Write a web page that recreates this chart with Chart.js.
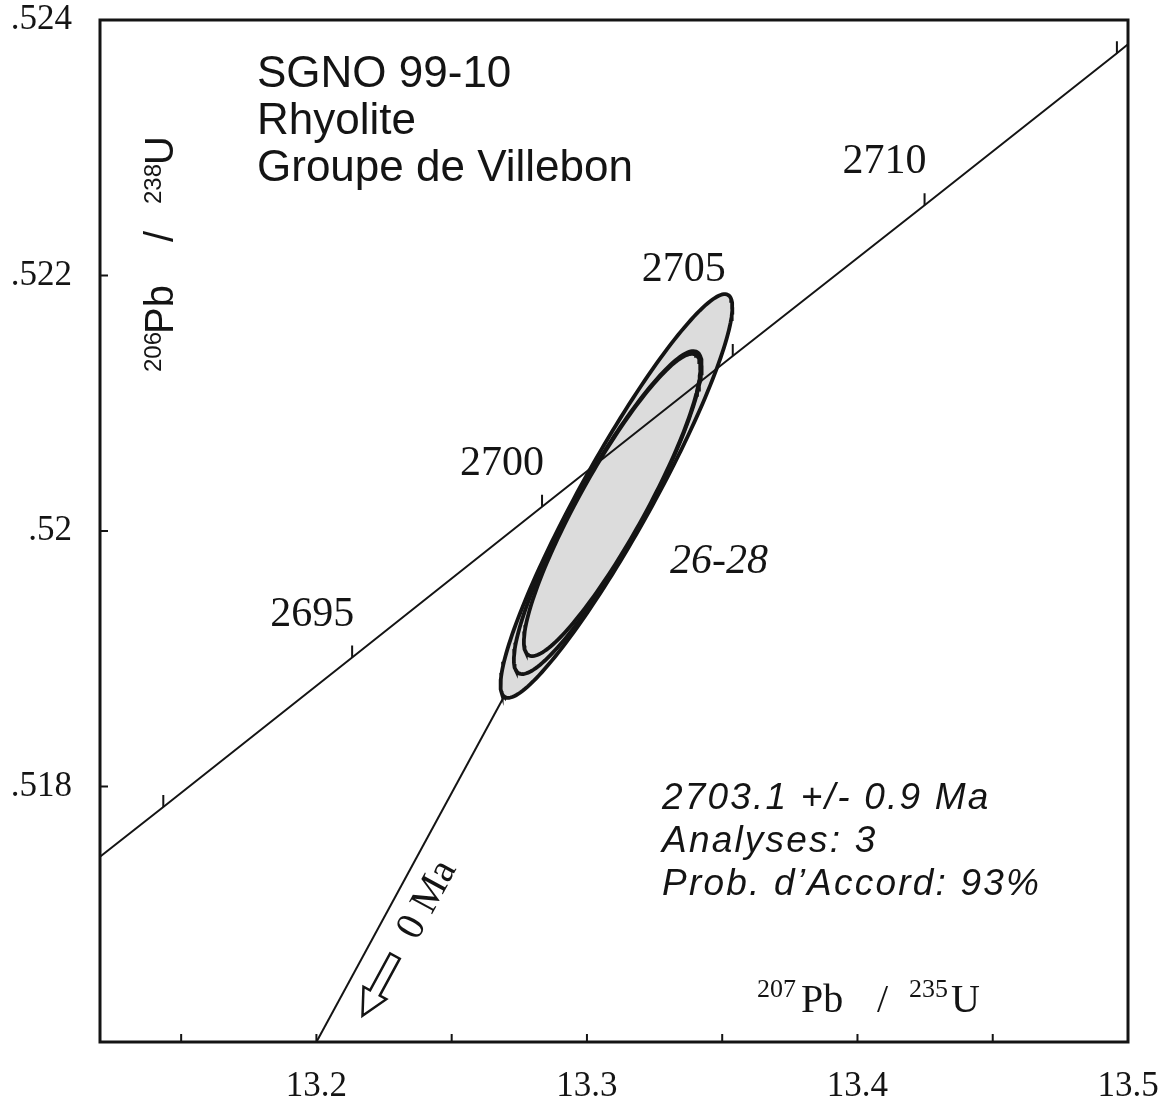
<!DOCTYPE html>
<html><head><meta charset="utf-8">
<script src="https://cdn.jsdelivr.net/npm/chart.js@4.4.0/dist/chart.umd.min.js"></script>
<style>html,body{margin:0;padding:0;background:#fff;} canvas{display:block;}</style>
</head><body>
<canvas id="c" width="1165" height="1105"></canvas>
<script>
// ---------------- data ----------------
const xRange = [13.12, 13.5];
const yRange = [0.516, 0.524];
const xTickLabels = [13.2, 13.3, 13.4, 13.5];
const xInnerTicks = [13.15, 13.2, 13.25, 13.3, 13.35, 13.4, 13.45];
const yTickValues = [0.518, 0.52, 0.522, 0.524];
const yTickLabels = ['.518', '.52', '.522', '.524'];
const yInnerTicks = [0.518, 0.52, 0.522];

// concordia age marks (Ma) and their positions
const concordiaAges = [2690, 2695, 2700, 2705, 2710, 2715];
const concordiaX = [13.1434, 13.2132, 13.2834, 13.3539, 13.4248, 13.4959];
const concordiaY = [0.51784, 0.51901, 0.52019, 0.52137, 0.52255, 0.52374];
const concordiaEndsX = [13.12, 13.5];
const concordiaEndsY = [0.51745, 0.52381];
const labelledAges = [2695, 2700, 2705, 2710];

// error ellipses (analyses 26-28): centre, half-ranges, correlation
const ellipseCx = [13.3109, 13.3077, 13.3093];
const ellipseCy = [0.520274, 0.520144, 0.520204];
const ellipseRx = [0.04284, 0.03472, 0.03262];
const ellipseRy = [0.001580, 0.001264, 0.001183];
const ellipseRho = [0.935, 0.911, 0.905];

// reference line towards 0 Ma
const zeroLineX = [13.2, 13.28];
const zeroLineY = [0.51600, 0.51912];

// texts
const titleLines = ['SGNO 99-10', 'Rhyolite', 'Groupe de Villebon'];
const statsLines = ['2703.1 +/- 0.9 Ma', 'Analyses: 3', 'Prob. d\u2019Accord: 93%'];
const groupLabel = '26-28';
const zeroLabel = '0 Ma';

// ---------------- build ----------------
const SERIF = '"Liberation Serif", "Times New Roman", Times, serif';
const SANS = '"Liberation Sans", Arial, Helvetica, sans-serif';
const INK = '#141414';

function ellipsePoints(i) {
  const pts = [];
  const s = Math.sqrt(1 - ellipseRho[i] * ellipseRho[i]);
  for (let k = 0; k <= 180; k++) {
    const t = k / 180 * 2 * Math.PI;
    pts.push({
      x: ellipseCx[i] + ellipseRx[i] * Math.cos(t),
      y: ellipseCy[i] + ellipseRy[i] * (ellipseRho[i] * Math.cos(t) + s * Math.sin(t))
    });
  }
  return pts;
}

const concordiaData = [{x: concordiaEndsX[0], y: concordiaEndsY[0]}]
  .concat(concordiaX.map((x, i) => ({x, y: concordiaY[i]})))
  .concat([{x: concordiaEndsX[1], y: concordiaEndsY[1]}]);

const lineBase = {showLine: true, pointRadius: 0, pointHoverRadius: 0, tension: 0, borderColor: INK};
const FILL = '#dcdcdc';

const datasets = [
  Object.assign({}, lineBase, {label: 'concordia', data: concordiaData, borderWidth: 2, fill: false, order: 0}),
  Object.assign({}, lineBase, {label: 'e3', data: ellipsePoints(2), borderWidth: 3.8, fill: 'shape', backgroundColor: FILL, order: 1}),
  Object.assign({}, lineBase, {label: 'e2', data: ellipsePoints(1), borderWidth: 3.8, fill: 'shape', backgroundColor: FILL, order: 2}),
  Object.assign({}, lineBase, {label: 'e1', data: ellipsePoints(0), borderWidth: 3.8, fill: 'shape', backgroundColor: FILL, order: 3}),
  Object.assign({}, lineBase, {label: 'zero', data: zeroLineX.map((x, i) => ({x, y: zeroLineY[i]})), borderWidth: 2, fill: false, order: 4})
];

function drawRich(ctx, ox, oy, angle, parts) {
  ctx.save();
  ctx.translate(ox, oy);
  ctx.rotate(angle);
  ctx.textAlign = 'left';
  ctx.textBaseline = 'alphabetic';
  ctx.fillStyle = INK;
  parts.forEach(p => {
    ctx.font = p.font;
    ctx.fillText(p.t, p.at, -(p.rise || 0));
  });
  ctx.restore();
}

const decorPlugin = {
  id: 'decor',
  afterDatasetsDraw(chart) {
    const ctx = chart.ctx;
    const xs = chart.scales.x, ys = chart.scales.y;
    const a = chart.chartArea;
    const P = (x, y) => ({x: xs.getPixelForValue(x), y: ys.getPixelForValue(y)});
    ctx.save();
    ctx.strokeStyle = INK;
    ctx.fillStyle = INK;
    ctx.lineCap = 'butt';

    // frame
    ctx.lineWidth = 3;
    ctx.strokeRect(a.left, a.top, a.right - a.left, a.bottom - a.top);

    // inner axis ticks
    ctx.lineWidth = 2;
    ctx.beginPath();
    xInnerTicks.forEach(v => { const px = xs.getPixelForValue(v); ctx.moveTo(px, a.bottom); ctx.lineTo(px, a.bottom - 8); });
    yInnerTicks.forEach(v => { const py = ys.getPixelForValue(v); ctx.moveTo(a.left, py); ctx.lineTo(a.left + 8, py); });
    ctx.stroke();

    // concordia age ticks + labels
    ctx.save();
    ctx.beginPath();
    ctx.rect(a.left, a.top, a.right - a.left, a.bottom - a.top);
    ctx.clip();
    ctx.lineWidth = 2;
    ctx.beginPath();
    concordiaAges.forEach((age, i) => {
      const p = P(concordiaX[i], concordiaY[i]);
      ctx.moveTo(p.x, p.y); ctx.lineTo(p.x, p.y - 12);
    });
    ctx.stroke();
    ctx.restore();

    ctx.font = '42px ' + SERIF;
    ctx.textAlign = 'center';
    ctx.textBaseline = 'middle';
    const labelOffset = {2705: [-49, -86]};
    concordiaAges.forEach((age, i) => {
      if (labelledAges.indexOf(age) < 0) return;
      const p = P(concordiaX[i], concordiaY[i]);
      const off = labelOffset[age] || [-40, -43];
      ctx.fillText(String(age), p.x + off[0], p.y + off[1]);
    });

    // sample title
    ctx.font = '44px ' + SANS;
    ctx.textAlign = 'left';
    ctx.textBaseline = 'alphabetic';
    titleLines.forEach((t, i) => ctx.fillText(t, 257, 87 + i * 47));

    // statistics
    ctx.font = 'italic 37px ' + SANS;
    if ('letterSpacing' in ctx) ctx.letterSpacing = '2.2px';
    statsLines.forEach((t, i) => ctx.fillText(t, 662, 809 + i * 43));
    if ('letterSpacing' in ctx) ctx.letterSpacing = '0px';

    // analyses label
    ctx.font = 'italic 42px ' + SERIF;
    ctx.fillText(groupLabel, 670, 573);

    // 0 Ma line arrow and label
    const p0 = P(zeroLineX[0], zeroLineY[0]);
    const p1 = P(zeroLineX[1], zeroLineY[1]);
    const len = Math.hypot(p1.x - p0.x, p1.y - p0.y);
    const u = {x: (p1.x - p0.x) / len, y: (p1.y - p0.y) / len};
    const n = {x: -u.y, y: u.x};
    const ang = Math.atan2(u.y, u.x);
    const tip = {x: p0.x + u.x * 45 + n.x * 28, y: p0.y + u.y * 45 + n.y * 28};
    const loc = (s, w) => [tip.x + u.x * s + n.x * w, tip.y + u.y * s + n.y * w];
    const poly = [loc(0, 0), loc(26, 13), loc(26, 5.5), loc(68, 5.5), loc(68, -5.5), loc(26, -5.5), loc(26, -13)];
    ctx.beginPath();
    poly.forEach((q, i) => i ? ctx.lineTo(q[0], q[1]) : ctx.moveTo(q[0], q[1]));
    ctx.closePath();
    ctx.fillStyle = '#fff';
    ctx.fill();
    ctx.lineWidth = 2.5;
    ctx.lineJoin = 'miter';
    ctx.stroke();
    ctx.fillStyle = INK;

    ctx.save();
    ctx.translate(p0.x + u.x * 178 + n.x * 30, p0.y + u.y * 178 + n.y * 30);
    ctx.rotate(ang);
    ctx.font = '40px ' + SERIF;
    ctx.textAlign = 'center';
    ctx.textBaseline = 'middle';
    ctx.fillText(zeroLabel, 0, 0);
    ctx.restore();

    // axis titles (inside plot)
    const sSup = '26px ' + SERIF, sMain = '40px ' + SERIF;
    drawRich(ctx, 757, 1012, 0, [
      {t: '207', font: sSup, at: 0, rise: 15},
      {t: 'Pb', font: sMain, at: 44},
      {t: '/', font: sMain, at: 120},
      {t: '235', font: sSup, at: 152, rise: 15},
      {t: 'U', font: sMain, at: 194}
    ]);
    const aSup = '24px ' + SANS, aMain = '40px ' + SANS;
    drawRich(ctx, 173, 372, -Math.PI / 2, [
      {t: '206', font: aSup, at: 0, rise: 12},
      {t: 'Pb', font: aMain, at: 38},
      {t: '/', font: aMain, at: 130},
      {t: '238', font: aSup, at: 168, rise: 12},
      {t: 'U', font: aMain, at: 207}
    ]);
    ctx.restore();
  }
};

new Chart(document.getElementById('c'), {
  type: 'scatter',
  data: {datasets},
  options: {
    responsive: false,
    animation: false,
    devicePixelRatio: 1,
    events: [],
    layout: {padding: {top: 20, right: 37, left: 0, bottom: 0}},
    plugins: {legend: {display: false}, tooltip: {enabled: false}},
    scales: {
      x: {
        type: 'linear', min: xRange[0], max: xRange[1],
        grid: {display: false, drawTicks: false},
        border: {display: false},
        afterBuildTicks: s => { s.ticks = xTickLabels.map(v => ({value: v})); },
        afterFit: s => { s.height = 63; s.paddingLeft = 0; s.paddingRight = 0; },
        ticks: {
          autoSkip: false, maxRotation: 0, minRotation: 0, padding: 24, color: INK,
          font: {family: SERIF, size: 35},
          callback: v => Number(v).toFixed(1)
        }
      },
      y: {
        type: 'linear', min: yRange[0], max: yRange[1],
        grid: {display: false, drawTicks: false},
        border: {display: false},
        afterBuildTicks: s => { s.ticks = yTickValues.map(v => ({value: v})); },
        afterFit: s => { s.width = 100; s.paddingTop = 0; s.paddingBottom = 0; },
        ticks: {
          autoSkip: false, padding: 28, color: INK,
          font: {family: SERIF, size: 35},
          callback: v => {
            const i = yTickValues.findIndex(t => Math.abs(t - v) < 1e-9);
            return i >= 0 ? yTickLabels[i] : '';
          }
        }
      }
    }
  },
  plugins: [decorPlugin]
});
</script>
</body></html>
